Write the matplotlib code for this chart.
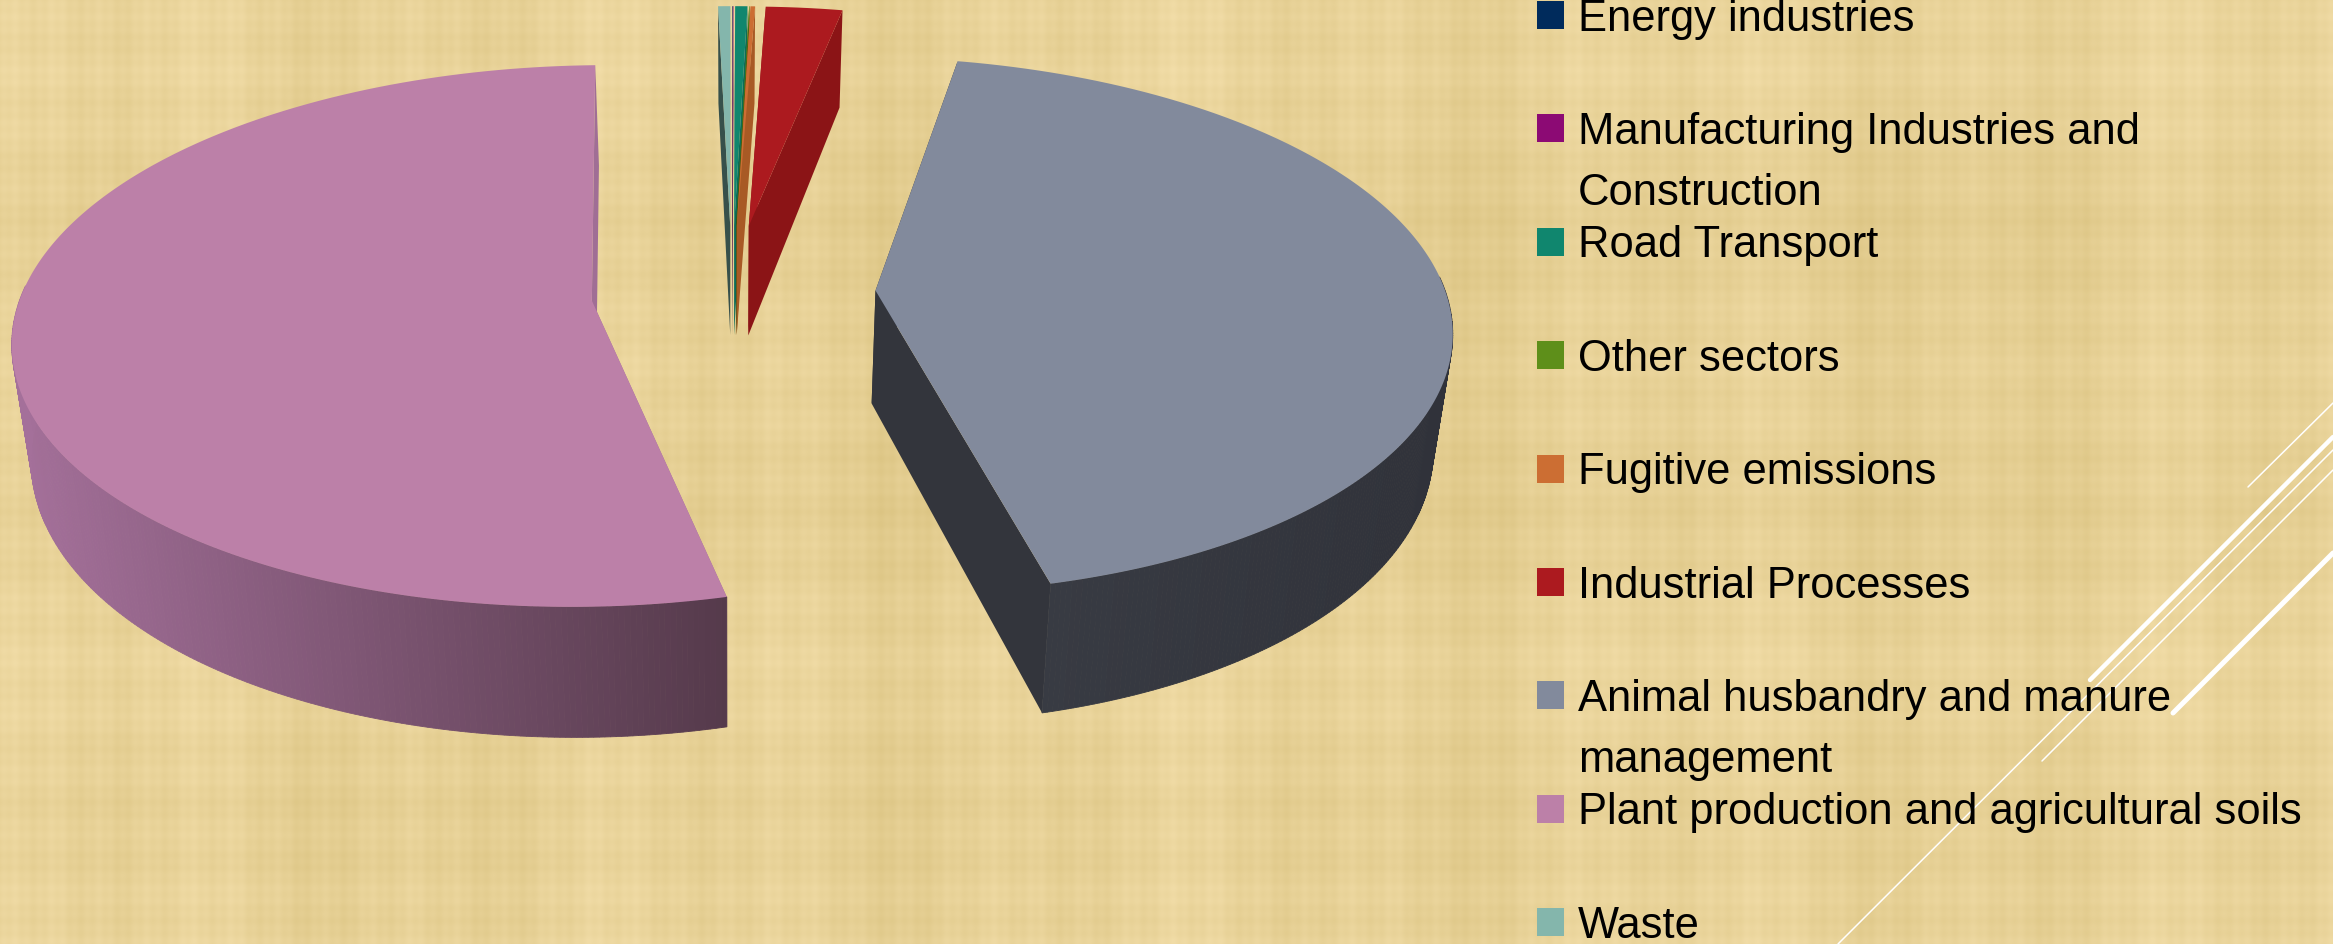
#!/usr/bin/env python3
"""Exploded 3D pie of emission sectors on a papyrus style background."""

import matplotlib

matplotlib.use("Agg")
import matplotlib.pyplot as plt
import numpy as np

W, H = 2333, 944

categories = [
    "Energy industries",
    "Manufacturing Industries and\nConstruction",
    "Road Transport",
    "Other sectors",
    "Fugitive emissions",
    "Industrial Processes",
    "Animal husbandry and manure\nmanagement",
    "Plant production and agricultural soils",
    "Waste",
]
values = [0.02, 0.02, 0.4, 0.02, 0.15, 2.5, 42.95, 53.25, 0.4]
explode = [0.26, 0.26, 0.26, 0.26, 0.26, 0.26, 0.252, 0.247, 0.26]
top_colors = ["#002B5C", "#8C0A74", "#10866E", "#5E8F1A", "#CC6E33", "#AC1A1F", "#828A9C", "#BC80A8", "#84B6AC"]
cut_colors = ["#001A38", "#560647", "#0B6C5A", "#3A5810", "#A85A25", "#8B1416", "#33353C", "#A06E95", "#37504B"]
wall_left = ["#001A38", "#560647", "#0B6C5A", "#3A5810", "#A85A25", "#8B1416", "#3A3D45", "#A4709A", "#37504B"]
wall_right = ["#001A38", "#560647", "#0B6C5A", "#3A5810", "#A85A25", "#8B1416", "#30323A", "#553A4B", "#37504B"]

# pie geometry in pixels
CX, CY = 732, 292
RX, RY = 570, 264
PERSP = 0.13
THICK = 113
BOTTOM_SCALE = 0.973


def project(x, y, bottom=False):
    s = 1 / (1 - PERSP * y)
    px = CX + RX * x * s
    py = CY + RY * y * s
    if bottom:
        px = CX + (px - CX) * BOTTOM_SCALE
        py = py + THICK * s
    return px, py


def mix(c1, c2, t):
    a = np.array(matplotlib.colors.to_rgb(c1))
    b = np.array(matplotlib.colors.to_rgb(c2))
    return a + (b - a) * t


def background(ax):
    xs = np.arange(W)
    ys = np.arange(H)
    col = (
        np.sin(xs / 1.9) * 0.3
        + np.sin(xs / 7.1) * 0.4
        + np.sin(xs / 31.0 + 1) * 0.55
        + np.sin(xs / 83.0) * 0.45
    )
    row = (
        np.sin(ys / 2.1) * 0.25
        + np.sin(ys / 9.3) * 0.35
        + np.sin(ys / 47.0) * 0.4
        + np.sin(ys / 131.0 + 2) * 0.3
    )
    tex = col[None, :] + row[:, None]
    tex = tex / np.abs(tex).max()
    base = np.array(matplotlib.colors.to_rgb("#E7D196"))
    amp = np.array([0.045, 0.05, 0.075])
    img = np.clip(base + tex[:, :, None] * amp, 0, 1)
    ax.imshow(img, extent=(0, W, H, 0), aspect="auto", zorder=0)


def draw_slice(ax, start, end, exp, top, cut, left, right, order):
    mid = np.radians((start + end) / 2)
    ox, oy = exp * np.sin(mid), -exp * np.cos(mid)
    th = np.radians(np.linspace(start, end, max(int(end - start) * 2, 6)))
    ux, uy = ox + np.sin(th), oy - np.cos(th)
    top_x, top_y = project(ux, uy)
    low_x, low_y = project(ux, uy, bottom=True)
    apex_top = project(ox, oy)
    apex_low = project(ox, oy, bottom=True)

    # cut faces at both radii, then the outer wall strip by strip
    for i in (0, -1):
        ax.fill(
            [apex_top[0], top_x[i], low_x[i], apex_low[0]],
            [apex_top[1], top_y[i], low_y[i], apex_low[1]],
            color=cut,
            lw=0,
            zorder=order,
        )
    lo, hi = top_x.min(), top_x.max()
    for i in range(len(th) - 1):
        if uy[i] - oy < -0.05 and uy[i + 1] - oy < -0.05:
            continue
        t = ((top_x[i] + top_x[i + 1]) / 2 - lo) / max(hi - lo, 1)
        ax.fill(
            [top_x[i], top_x[i + 1], low_x[i + 1], low_x[i]],
            [top_y[i], top_y[i + 1], low_y[i + 1], low_y[i]],
            color=mix(left, right, t),
            lw=0.6,
            zorder=order + 0.1,
        )
    ax.fill(
        np.r_[apex_top[0], top_x],
        np.r_[apex_top[1], top_y],
        color=top,
        lw=0,
        zorder=order + 0.2,
    )


def main():
    fig = plt.figure(figsize=(W / 100, H / 100), dpi=100)
    ax = fig.add_axes([0, 0, 1, 1])
    background(ax)

    # white decorative strokes of the slide theme
    stroke_x = [(2248, 2333), (2090, 2333), (1838, 2333), (2042, 2333), (2173, 2333)]
    stroke_y = [(487, 403), (680, 437), (944, 450), (761, 470), (713, 553)]
    stroke_w = [1.1, 3.2, 1.1, 1.1, 3.6]
    for xs, ys, lw in zip(stroke_x, stroke_y, stroke_w):
        ax.plot(xs, ys, color="white", lw=lw, solid_capstyle="round", zorder=1)

    angles = np.cumsum([0] + values) / sum(values) * 360
    for i in range(len(values)):
        draw_slice(
            ax, angles[i], angles[i + 1], explode[i],
            top_colors[i], cut_colors[i], wall_left[i], wall_right[i], 2 + i * 0.5,
        )

    legend_y = 15
    for i, name in enumerate(categories):
        y = legend_y + 113.4 * i
        ax.fill([1537, 1564, 1564, 1537], [y - 14, y - 14, y + 14, y + 14],
                color=top_colors[i], lw=0, zorder=8)
        for j, line in enumerate(name.split("\n")):
            ax.text(1578, y + 15.5 + 61 * j, line, fontsize=31.35, family="Liberation Sans",
                    va="baseline", ha="left", color="black", zorder=9)

    ax.set_xlim(0, W)
    ax.set_ylim(H, 0)
    ax.axis("off")
    fig.savefig("out.png", dpi=100)


if __name__ == "__main__":
    main()
